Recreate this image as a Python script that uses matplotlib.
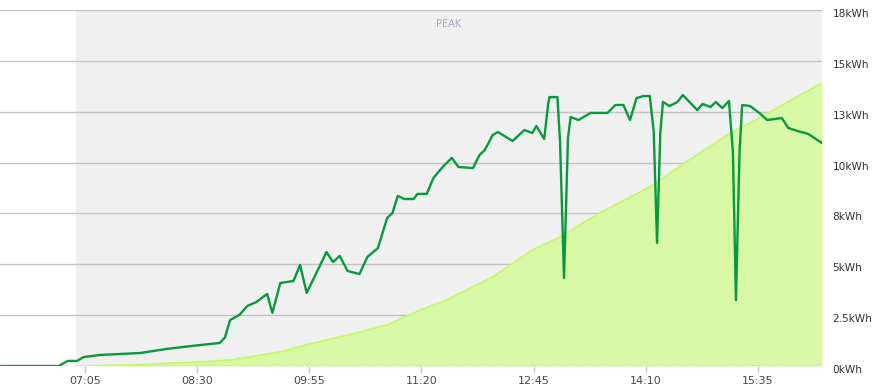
#!/usr/bin/env python3
"""Daily energy chart: instantaneous reading vs cumulative total, with a PEAK band."""

import matplotlib

matplotlib.use("Agg")
import matplotlib.pyplot as plt
import matplotlib.transforms as mtransforms
import numpy as np

# DATA (minutes since midnight, kWh)
READING_MIN = [
    361, 405, 412, 419, 424, 436, 467, 487, 512, 527, 531, 535, 542, 548, 555, 563,
    567, 573, 583, 588, 593, 608, 613, 618, 624, 633, 639, 647, 654, 658, 662, 667,
    674, 677, 684, 689, 696, 703, 708, 719, 724, 728, 734, 738, 749, 758, 764, 767,
    773, 776, 777, 783, 785, 788, 791, 793, 799, 808, 821, 827, 833, 838, 843, 848,
    853, 856, 858.5, 861, 863, 868, 874, 878, 889, 893, 899, 903, 908, 913, 916,
    918.3, 921, 923, 929, 936, 942, 953, 958, 965, 973, 983.5,
]
READING_KWH = [
    0.00, 0.00, 0.25, 0.25, 0.44, 0.54, 0.64, 0.84, 1.03, 1.13, 1.40, 2.26, 2.51, 2.95,
    3.15, 3.54, 2.61, 4.08, 4.18, 4.97, 3.59, 5.60, 5.11, 5.41, 4.67, 4.52, 5.36, 5.80,
    7.28, 7.52, 8.36, 8.21, 8.21, 8.46, 8.46, 9.24, 9.78, 10.23, 9.78, 9.73, 10.37,
    10.62, 11.36, 11.50, 11.06, 11.60, 11.45, 11.80, 11.16, 12.90, 13.22, 13.22, 11.0,
    4.33, 11.2, 12.24, 12.09, 12.44, 12.44, 12.83, 12.83, 12.09, 13.17, 13.27, 13.27,
    11.5, 6.05, 11.5, 12.98, 12.78, 12.98, 13.32, 12.58, 12.88, 12.73, 12.98, 12.68,
    13.03, 10.5, 3.24, 10.5, 12.83, 12.78, 12.44, 12.09, 12.19, 11.70, 11.55, 11.41,
    10.96,
]

TOTAL_MIN = [425, 467, 512, 535, 558, 573, 598, 624, 654, 679, 699, 734, 764, 785,
             815, 853, 883, 914, 936, 959, 983.5]
TOTAL_KWH = [0.00, 0.07, 0.20, 0.29, 0.54, 0.69, 1.13, 1.52, 2.02, 2.75, 3.24, 4.38,
             5.70, 6.34, 7.52, 8.80, 10.13, 11.45, 12.19, 13.03, 13.91]

PEAK_START, PEAK_END = 418, 984
X_TICKS = [425, 510, 595, 680, 765, 850, 935]
X_LABELS = ["07:05", "08:30", "09:55", "11:20", "12:45", "14:10", "15:35"]
Y_TICKS = [0, 2.5, 5, 7.5, 10, 12.5, 15, 17.5]
Y_LABELS = ["0kWh", "2.5kWh", "5kWh", "8kWh", "10kWh", "13kWh", "15kWh", "18kWh"]

COLOR_LINE = "#079a3c"
COLOR_FILL = "#d9f8a6"
COLOR_FILL_EDGE = "#c6f86c"
COLOR_BAND = "#f0f0f0"
COLOR_GRID = "#c4c4c4"
COLOR_AXIS = "#c0d0e0"


def main() -> None:
    fig = plt.figure(figsize=(8.76, 3.87), dpi=100)
    ax = fig.add_axes([0.0, 1 - 366 / 387, 822 / 876, 356 / 387])

    ax.set_xlim(360.6, 983.5)
    ax.set_ylim(0, 17.5)

    ax.axvspan(PEAK_START, PEAK_END, color=COLOR_BAND, zorder=0, lw=0)
    ax.text((PEAK_START + 983.5) / 2, 0.962, "PEAK", transform=ax.get_xaxis_transform(),
            ha="center", va="center", fontsize=7, color="#a3abba")

    for v in Y_TICKS[1:]:
        ax.axhline(v, color=COLOR_GRID, lw=1.0, zorder=1)

    ax.fill_between(TOTAL_MIN, TOTAL_KWH, 0, color=COLOR_FILL, lw=0, zorder=2)
    ax.plot(TOTAL_MIN, TOTAL_KWH, color=COLOR_FILL_EDGE, lw=1.3, zorder=3)

    ax.plot([360.6, 983.5], [0, 0], color="#e39a9a", lw=1.0, ls="-.", zorder=2.5)
    ax.axhline(0, color=COLOR_AXIS, lw=1.0, zorder=2.6)

    ax.plot(READING_MIN, READING_KWH, color=COLOR_LINE, lw=1.7, zorder=4,
            solid_joinstyle="round", solid_capstyle="round")

    for s in ax.spines.values():
        s.set_visible(False)

    ax.set_xticks(X_TICKS)
    ax.set_xticklabels(X_LABELS)
    ax.tick_params(axis="x", direction="out", length=5, width=1, color=COLOR_AXIS,
                   labelsize=8, labelcolor="#4a4a4a", pad=2)

    ax.yaxis.tick_right()
    ax.set_yticks(Y_TICKS)
    ax.set_yticklabels(Y_LABELS)
    ax.tick_params(axis="y", length=0, labelsize=7.6, labelcolor="#333333", pad=7.5)
    offset = mtransforms.ScaledTranslation(0, -3 / 100, fig.dpi_scale_trans)
    for lab in ax.get_yticklabels():
        lab.set_transform(lab.get_transform() + offset)

    fig.savefig("out.png", dpi=100)
    plt.close(fig)


if __name__ == "__main__":
    main()
